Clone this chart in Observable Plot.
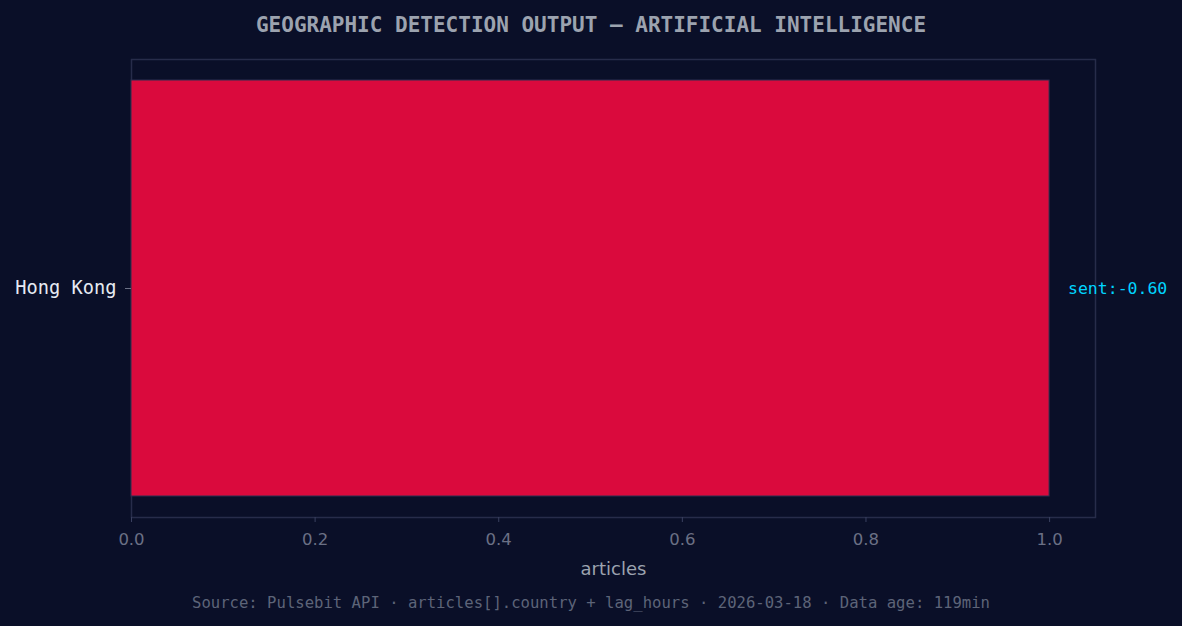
<!DOCTYPE html>
<html>
<head>
<meta charset="utf-8">
<script src="https://cdn.jsdelivr.net/npm/d3@7"></script>
<script src="https://cdn.jsdelivr.net/npm/@observablehq/plot@0.6"></script>
<style>
  html, body { margin: 0; padding: 0; background: #0a0f28; }
  #wrap { position: relative; width: 1182px; height: 626px; background: #0a0f28; overflow: hidden; }
  #title { position: absolute; left: 0; top: 13px; width: 1182px; text-align: center;
    font-family: "DejaVu Sans Mono", monospace; font-weight: bold; font-size: 21px; color: #9ca3af; }
  #caption { position: absolute; left: 0; top: 594px; width: 1182px; text-align: center;
    font-family: "DejaVu Sans Mono", monospace; font-size: 15.6px; color: #5d6478; }
  #chart { position: absolute; left: 0; top: 0; }
</style>
</head>
<body>
<div id="wrap">
  <div id="chart"></div>
  <div id="title">GEOGRAPHIC DETECTION OUTPUT — ARTIFICIAL INTELLIGENCE</div>
  <div id="caption">Source: Pulsebit API · articles[].country + lag_hours · 2026-03-18 · Data age: 119min</div>
</div>
<script>
const countries = ["Hong Kong"];
const articles = [1];
const sentiment = [-0.60];
const xTicks = [0, 0.2, 0.4, 0.6, 0.8, 1.0];

const data = countries.map((c, i) => ({country: c, articles: articles[i], sent: sentiment[i]}));

const chart = Plot.plot({
  width: 1182,
  height: 626,
  marginTop: 59,
  marginBottom: 109,
  marginLeft: 131,
  marginRight: 87,
  style: {background: "transparent", overflow: "visible"},
  x: {domain: [0, 1.05], label: null},
  y: {domain: countries, padding: 0.0477, label: null},
  marks: [
    Plot.frame({stroke: "#272c4a", strokeWidth: 1.5}),
    Plot.barX(data, {x: "articles", y: "country", fill: "#da0a3d", stroke: "#2a2f50", strokeWidth: 1}),
    Plot.axisX({ticks: xTicks, tickFormat: d3.format(".1f"), tickSize: 5, tickPadding: 11, stroke: "#3a4060",
      fill: "#6b7085", fontSize: 16.5, fontFamily: "DejaVu Sans", label: null}),
    Plot.axisY({tickSize: 6, tickPadding: 9, stroke: "#6b7085", fill: "#e6eaf2", fontSize: 18.7,
      fontFamily: "DejaVu Sans Mono", label: null}),
    Plot.text(data, {x: d => d.articles + 0.02, y: "country", text: d => `sent:${d.sent.toFixed(2)}`,
      textAnchor: "start", fill: "#00d4ff", fontSize: 16.5, fontFamily: "DejaVu Sans Mono"}),
    Plot.text(["articles"], {frameAnchor: "bottom", dy: 57, text: d => d, fill: "#9ca3af",
      fontSize: 18, fontFamily: "DejaVu Sans"})
  ]
});
document.getElementById("chart").appendChild(chart);
</script>
</body>
</html>
